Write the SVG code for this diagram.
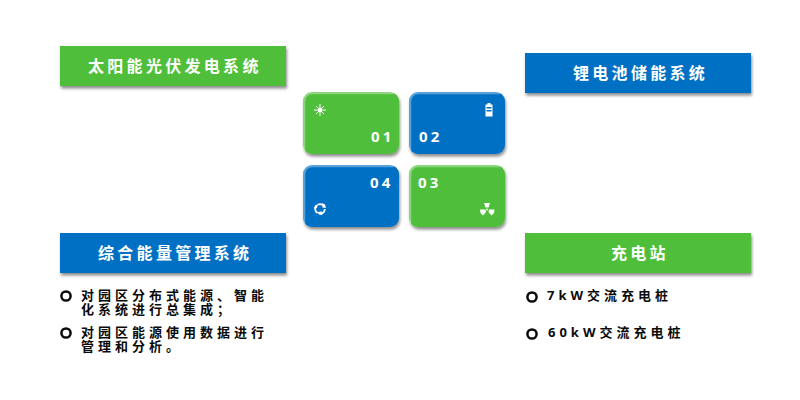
<svg xmlns="http://www.w3.org/2000/svg" width="800" height="400" viewBox="0 0 800 400">
<style>
.g{fill:#50bf3b}.b{fill:#0070c4}
.h{font:bold 16px "Noto Sans CJK SC","Noto Sans",sans-serif;fill:#fff;letter-spacing:3.3px}
.n{font:bold 15px "Noto Sans","Liberation Sans",sans-serif;fill:#fff;letter-spacing:3.2px}
.t{font:bold 13px "Noto Sans","Noto Sans CJK SC",sans-serif;fill:#0a0a0a;letter-spacing:4px}
.o{fill:none;stroke:#0a0a0a;stroke-width:2.500}
.i{fill:#fff}
.hl{fill:none;stroke:#fff;stroke-opacity:.35;stroke-width:2.500;filter:url(#bl)}
</style>
<defs>
<filter id="s" x="-10%" y="-20%" width="120%" height="150%"><feDropShadow dx="1" dy="2.500" stdDeviation="1.800" flood-color="#000" flood-opacity=".45"/></filter>
<filter id="bl" x="-5%" y="-10%" width="110%" height="120%"><feGaussianBlur stdDeviation=".7"/></filter>
</defs>
<g id="node-solar"><rect class="g" x="60" y="46" width="226" height="40" filter="url(#s)"/><text class="h" x="88" y="72">太阳能光伏发电系统</text></g>
<g id="node-battery"><rect class="b" x="525" y="53" width="226" height="40" filter="url(#s)"/><text class="h" x="573" y="79">锂电池储能系统</text></g>
<g id="node-ems"><rect class="b" x="60" y="233" width="226" height="40" filter="url(#s)"/><text class="h" x="98" y="259">综合能量管理系统</text>
<circle class="o" cx="66" cy="296" r="4.600"/><text class="t" x="81" y="300">对园区分布式能源、智能</text><text class="t" x="81" y="314">化系统进行总集成；</text>
<circle class="o" cx="66" cy="333" r="4.600"/><text class="t" x="81" y="337">对园区能源使用数据进行</text><text class="t" x="81" y="351">管理和分析。</text></g>
<g id="node-charge"><rect class="g" x="525" y="233" width="226" height="40" filter="url(#s)"/><text class="h" x="611" y="259">充电站</text>
<circle class="o" cx="532" cy="297" r="4.600"/><text class="t" x="547" y="300">7kW交流充电桩</text>
<circle class="o" cx="532" cy="334" r="4.600"/><text class="t" x="548" y="337">60kW交流充电桩</text></g>
<g id="tile-01"><rect class="g" x="303" y="92" width="96" height="62" rx="9" filter="url(#s)"/><path class="hl" d="M304 150V101a8 8 0 0 1 8-8h82"/><text class="n" x="371" y="142">01</text>
<path stroke="#fff" stroke-width="1" d="M320 104v12M314 110h12M316 106l8 8M324 106l-8 8"/><circle class="i" cx="320" cy="110" r="2.200"/></g>
<g id="tile-02"><rect class="b" x="409" y="92" width="96" height="62" rx="9" filter="url(#s)"/><path class="hl" d="M410 150V101a8 8 0 0 1 8-8h82"/><text class="n" x="419" y="142">02</text>
<path class="i" d="M485.500 104.500h2v-1.500h3v1.500h2v12h-7z"/><path class="b" d="M486.500 107h5v1.500h-5zM486.500 110h5v1.500h-5z"/></g>
<g id="tile-04"><rect class="b" x="303" y="165" width="96" height="62" rx="9" filter="url(#s)"/><path class="hl" d="M304 223V174a8 8 0 0 1 8-8h82"/><text class="n" x="370" y="188">04</text>
<circle cx="320" cy="209" r="4.800" fill="none" stroke="#fff" stroke-width="1.800" stroke-dasharray="7 3"/><path class="i" d="M322 203l3 1.500 1 3.500-3.500-.5zM322 215l-3-.5-2-2.500 5-.5zM314 209l1-3.500 3-1.500-1 4z"/></g>
<g id="tile-03"><rect class="g" x="409" y="165" width="96" height="62" rx="9" filter="url(#s)"/><path class="hl" d="M410 223V174a8 8 0 0 1 8-8h82"/><text class="n" x="418" y="188">03</text>
<path class="i" d="M484 203h6l-1.500 4.500h-3zM480 209.500h5.500l.5 2.500-3 3.500-2.500-2.500zM488.500 212l.5-2.500h5.500l-.5 3.500-2.500 2.500z"/><circle class="i" cx="487" cy="209.500" r="1"/></g>
<g id="connectors"></g>
</svg>
